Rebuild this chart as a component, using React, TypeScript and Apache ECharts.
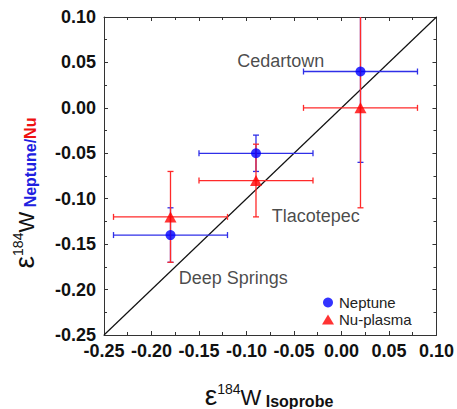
import React, { useEffect, useRef } from "react";
import * as echarts from "echarts";

// ---- data ----
const xIsoprobe = [-0.18, -0.09, 0.02];
const xIsoprobeErr = [0.06, 0.06, 0.06];
const neptuneY = [-0.14, -0.05, 0.04];
const neptuneYErr = [0.03, 0.02, 0.1];
const nuPlasmaY = [-0.12, -0.08, 0.0];
const nuPlasmaYErr = [0.05, 0.04, 0.11];
const sampleNames = ["Deep Springs", "Tlacotepec", "Cedartown"];
const sampleLabelX = [-0.114, -0.027, -0.064];
const sampleLabelY = [-0.187, -0.119, 0.052];
const axisMin = -0.25;
const axisMax = 0.1;
const axisStep = 0.05;
const oneToOne = [
  [-0.25, -0.25],
  [0.1, 0.1],
];

const FONT = "'Liberation Sans', Arial, sans-serif";
const BLUE = "#0000ff";
const RED = "#ff0000";
const BLUE_BAR = "#2f2fe8";
const RED_BAR = "#ff2a2a";

function errBarSeries(ys: number[], yErr: number[], color: string) {
  return {
    type: "custom",
    clip: true,
    encode: { x: 0, y: 1 },
    data: xIsoprobe.map((x, i) => [x, ys[i], xIsoprobeErr[i], yErr[i]]),
    renderItem: (params: any, api: any) => {
      const x = api.value(0);
      const y = api.value(1);
      const xe = api.value(2);
      const ye = api.value(3);
      const cs = params.coordSys;
      const l = api.coord([x - xe, y]);
      const r = api.coord([x + xe, y]);
      const b = api.coord([x, y - ye]);
      const t = api.coord([x, y + ye]);
      const c = 3;
      const style = { stroke: color, lineWidth: 1.3 };
      const children: any[] = [
        { type: "line", shape: { x1: l[0], y1: l[1], x2: r[0], y2: r[1] }, style },
        { type: "line", shape: { x1: l[0], y1: l[1] - c, x2: l[0], y2: l[1] + c }, style },
        { type: "line", shape: { x1: r[0], y1: r[1] - c, x2: r[0], y2: r[1] + c }, style },
      ];
      const topY = Math.max(t[1], cs.y);
      const botY = Math.min(b[1], cs.y + cs.height);
      children.push({ type: "line", shape: { x1: t[0], y1: topY, x2: b[0], y2: botY }, style });
      if (t[1] >= cs.y) {
        children.push({ type: "line", shape: { x1: t[0] - c, y1: t[1], x2: t[0] + c, y2: t[1] }, style });
      }
      if (b[1] <= cs.y + cs.height) {
        children.push({ type: "line", shape: { x1: b[0] - c, y1: b[1], x2: b[0] + c, y2: b[1] }, style });
      }
      return { type: "group", children };
    },
    z: 3,
  };
}

const fmt = (v: number) => (Math.abs(v) < 1e-9 ? "0.00" : v.toFixed(2));

const titleRich = {
  e: { fontFamily: FONT, fontSize: 28, fill: "#111", lineHeight: 30, verticalAlign: "bottom" },
  s: { fontFamily: FONT, fontSize: 14, fill: "#111", lineHeight: 30, verticalAlign: "top", padding: [3, 0, 0, 0] },
  w: { fontFamily: FONT, fontSize: 22, fill: "#111", lineHeight: 30, verticalAlign: "bottom", padding: [0, 0, 1, 0] },
  b: { fontFamily: FONT, fontSize: 16, fontWeight: "bold", fill: "#2020e0", lineHeight: 30, verticalAlign: "bottom" },
  r: { fontFamily: FONT, fontSize: 16, fontWeight: "bold", fill: "#ee1111", lineHeight: 30, verticalAlign: "bottom" },
  k: { fontFamily: FONT, fontSize: 16, fontWeight: "bold", fill: "#111", lineHeight: 30, verticalAlign: "bottom" },
};

export default function App() {
  const ref = useRef<HTMLDivElement>(null);
  useEffect(() => {
    if (!ref.current) return;
    const chart = echarts.init(ref.current, undefined, { renderer: "svg" });
    const axisCommon = {
      type: "value",
      min: axisMin,
      max: axisMax,
      interval: axisStep,
      splitLine: { show: false },
      axisLine: { show: true, onZero: false, lineStyle: { color: "#333", width: 1 } },
      axisTick: { show: true, inside: true, length: 4, lineStyle: { color: "#333" } },
      minorTick: { show: true, splitNumber: 2, length: 3, lineStyle: { color: "#333" } },
    };
    const labelStyle = {
      fontFamily: FONT,
      fontSize: 18,
      fontWeight: "bold",
      color: "#111",
      formatter: fmt,
      showMinLabel: true,
      showMaxLabel: true,
    };
    chart.setOption({
      animation: false,
      backgroundColor: "#fff",
      grid: { left: 104, right: 20, top: 17, bottom: 74 },
      xAxis: [
        { ...axisCommon, position: "bottom", axisLabel: { ...labelStyle, margin: 7 } },
        { ...axisCommon, position: "top", axisLabel: { show: false } },
      ],
      yAxis: [
        { ...axisCommon, position: "left", axisLabel: { ...labelStyle, margin: 8 } },
        { ...axisCommon, position: "right", axisLabel: { show: false } },
      ],
      legend: {
        orient: "vertical",
        left: 317,
        top: 290,
        itemWidth: 12,
        itemHeight: 10,
        itemGap: 2,
        itemTextGap: 10,
        textStyle: { fontFamily: FONT, fontSize: 15, color: "#222" },
        data: [
          { name: "Neptune", icon: "circle" },
          { name: "Nu-plasma", icon: "triangle" },
        ],
      },
      series: [
        {
          type: "line",
          data: oneToOne,
          symbol: "none",
          lineStyle: { color: "#111", width: 1.2 },
          z: 2,
          silent: true,
        },
        errBarSeries(neptuneY, neptuneYErr, BLUE_BAR),
        errBarSeries(nuPlasmaY, nuPlasmaYErr, RED_BAR),
        {
          name: "Neptune",
          type: "scatter",
          symbol: "circle",
          symbolSize: 10,
          itemStyle: { color: BLUE },
          data: xIsoprobe.map((x, i) => [x, neptuneY[i]]),
          z: 4,
        },
        {
          name: "Nu-plasma",
          type: "scatter",
          symbol: "triangle",
          symbolSize: [12, 11],
          itemStyle: { color: RED },
          data: xIsoprobe.map((x, i) => [x, nuPlasmaY[i]]),
          z: 5,
        },
        {
          name: "labels",
          type: "scatter",
          symbolSize: 1,
          itemStyle: { color: "rgba(0,0,0,0)" },
          silent: true,
          label: {
            show: true,
            position: "inside",
            formatter: (p: any) => p.name,
            fontFamily: FONT,
            fontSize: 18,
            color: "#1a1a1a",
            textBorderWidth: 0,
          },
          data: sampleNames.map((n, i) => ({ name: n, value: [sampleLabelX[i], sampleLabelY[i]] })),
          z: 6,
        },
      ],
      graphic: [
        {
          type: "text",
          x: 269,
          y: 394,
          style: {
            text: "{e|ε}{s|184}{w|W}{k| Isoprobe}",
            align: "center",
            verticalAlign: "middle",
            rich: titleRich,
          },
        },
        {
          type: "text",
          x: 23,
          y: 193,
          rotation: Math.PI / 2,
          style: {
            text: "{e|ε}{s|184}{w|W}{b| Neptune/}{r|Nu}",
            align: "center",
            verticalAlign: "middle",
            rich: titleRich,
          },
        },
      ],
    });
    return () => chart.dispose();
  }, []);
  return (
    <div
      ref={ref}
      style={{ position: "fixed", left: 0, top: 0, width: 457, height: 409 }}
    />
  );
}
